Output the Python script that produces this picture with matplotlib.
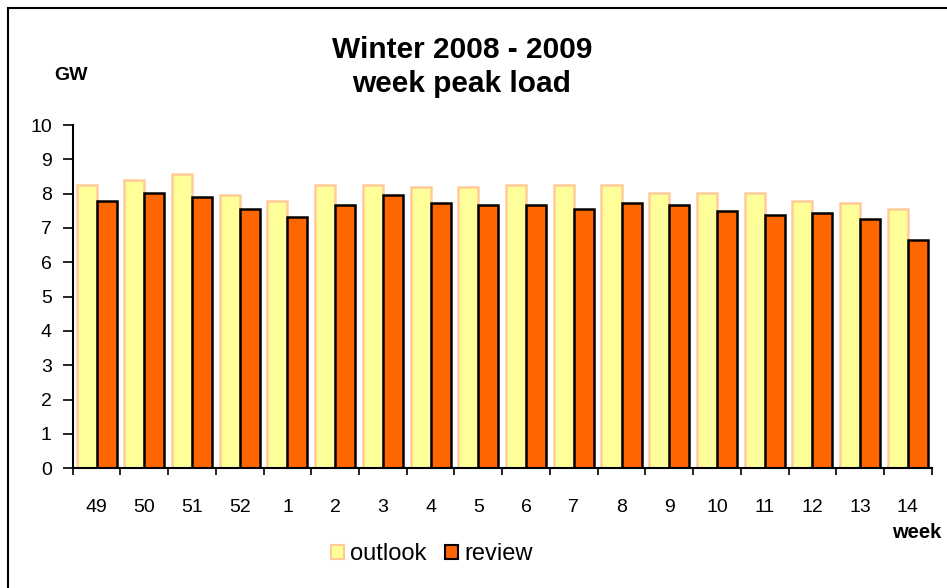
import matplotlib
matplotlib.use("Agg")
import matplotlib.pyplot as plt
import numpy as np
from matplotlib.patches import Rectangle, Patch

plt.rcParams['font.family'] = ['Liberation Sans', 'DejaVu Sans']

weeks = ["49", "50", "51", "52", "1", "2", "3", "4", "5", "6", "7", "8", "9", "10", "11", "12", "13", "14"]
outlook = [8.25, 8.41, 8.58, 7.97, 7.79, 8.25, 8.25, 8.19, 8.18, 8.25, 8.25, 8.25, 8.01, 8.01, 8.01, 7.79, 7.73, 7.56]
review = [7.79, 8.01, 7.90, 7.56, 7.33, 7.68, 7.97, 7.73, 7.68, 7.68, 7.56, 7.73, 7.68, 7.49, 7.39, 7.44, 7.27, 6.65]
yticks = list(range(0, 11))

W, H = 947, 588
fig = plt.figure(figsize=(W / 100, H / 100), dpi=100)
fig.patches.append(Rectangle((8 / W, -0.1), 1.2, 1 - 8 / H + 0.1, transform=fig.transFigure,
                             fill=False, edgecolor='black', linewidth=1.5))

ax = fig.add_axes([72.7 / W, (H - 468.3) / H, (931.7 - 72.7) / W, (468.3 - 125) / H])
x = np.arange(len(weeks))
bw = 0.42
ax.bar(x - bw / 2, outlook, width=bw, color='#FFFF99', edgecolor='#FFCC99', linewidth=1.8, label='outlook')
ax.bar(x + bw / 2, review, width=bw, color='#FF6600', edgecolor='black', linewidth=1.8, label='review')

ax.set_xlim(-0.5, len(weeks) - 0.5)
ax.set_ylim(0, 10)
ax.set_yticks(yticks)
ax.tick_params(axis='y', length=7, width=1.2, pad=8, labelsize=14, direction='out')
ax.set_xticks(np.arange(len(weeks) + 1) - 0.5)
ax.set_xticklabels([])
ax.set_xticks(x, minor=True)
ax.set_xticklabels(weeks, minor=True, fontsize=14)
ax.tick_params(axis='x', which='major', length=5, width=1.2, direction='out')
ax.tick_params(axis='x', which='minor', length=0, pad=22)
for s in ['top', 'right']:
    ax.spines[s].set_visible(False)
for s in ['left', 'bottom']:
    ax.spines[s].set_linewidth(1.5)

fig.text(462 / W, 1 - 58 / H, "Winter 2008 - 2009", ha='center', va='baseline',
         fontsize=21.5, fontweight='bold')
fig.text(462 / W, 1 - 92 / H, "week peak load", ha='center', va='baseline',
         fontsize=21.5, fontweight='bold')
fig.text(71 / W, 1 - 75 / H, "GW", ha='center', va='center', fontsize=14, fontweight='bold')
fig.text(917 / W, 1 - 532 / H, "week", ha='center', va='center', fontsize=14.5, fontweight='bold')

handles = [Patch(facecolor='#FFFF99', edgecolor='#FFCC99', linewidth=1.5),
           Patch(facecolor='#FF6600', edgecolor='black', linewidth=1.5)]
fig.legend(handles, ['outlook', 'review'], loc='center', bbox_to_anchor=(432 / W, 1 - 554 / H),
           ncol=2, frameon=False, fontsize=17, handlelength=0.55, handleheight=0.55,
           handletextpad=0.25, columnspacing=0.8, borderpad=0, borderaxespad=0)

fig.savefig("out.png", dpi=100)
